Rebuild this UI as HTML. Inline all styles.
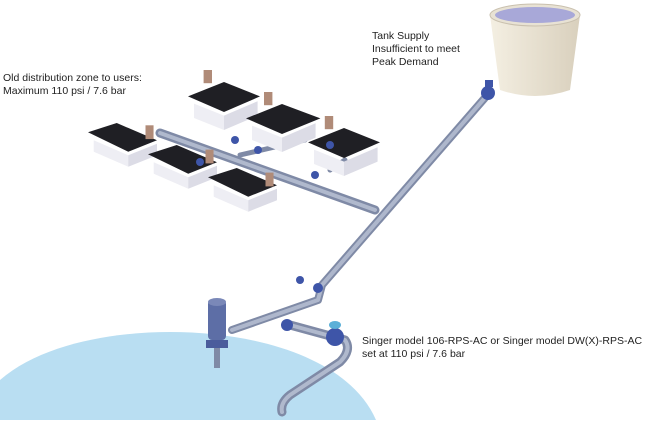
<!DOCTYPE html>
<html><head><style>
html,body{margin:0;background:#fff;width:664px;height:431px;overflow:hidden}
svg{display:block}
text{font-family:"Liberation Sans",sans-serif;font-size:10.5px;fill:#222}
</style></head><body>
<svg width="664" height="431" viewBox="0 0 664 431">
<defs>
<linearGradient id="tk" x1="0" x2="1"><stop offset="0" stop-color="#f4efe2"/><stop offset="1" stop-color="#d9d0bd"/></linearGradient>
</defs>
<rect width="664" height="431" fill="#fff"/>
<path d="M0 380 C40 345 110 332 170 332 C260 332 350 360 376 420 L0 420 Z" fill="#b9def2"/>
<path d="M490 15 L500 90 Q535 102 570 90 L580 15 Z" fill="url(#tk)"/>
<ellipse cx="535" cy="15" rx="45" ry="11" fill="#e8e2d4" stroke="#c9c0ae"/>
<ellipse cx="535" cy="15" rx="40" ry="8" fill="#a8a8d8"/>
<g fill="none" stroke-linecap="round" stroke-linejoin="round">
<path d="M490 92 L322 285 L318 300 L232 330" stroke="#7f8aa6" stroke-width="8"/>
<path d="M490 92 L322 285 L318 300 L232 330" stroke="#aeb7cc" stroke-width="4"/>
<path d="M160 133 L375 210" stroke="#7f8aa6" stroke-width="9"/>
<path d="M160 133 L375 210" stroke="#b0b9cd" stroke-width="4"/>
<path d="M240 155 L305 140 M330 170 L345 160 M185 165 L200 160" stroke="#7f8aa6" stroke-width="5"/>
<path d="M290 325 L345 340 Q352 350 340 362 L290 395 Q280 403 282 412" stroke="#7f8aa6" stroke-width="9"/>
<path d="M290 325 L345 340 Q352 350 340 362 L290 395 Q280 403 282 412" stroke="#b0b9cd" stroke-width="4"/>
</g>
<g fill="#3e55a8">
<circle cx="488" cy="93" r="7"/><rect x="485" y="80" width="8" height="7"/>
<circle cx="335" cy="337" r="9"/><ellipse cx="335" cy="325" rx="6" ry="4" fill="#5cb0d8"/>
<circle cx="287" cy="325" r="6"/>
<circle cx="318" cy="288" r="5"/>
<circle cx="300" cy="280" r="4"/>
</g>
<rect x="208" y="300" width="18" height="40" rx="4" fill="#5d6ea6"/>
<ellipse cx="217" cy="302" rx="9" ry="4" fill="#7a88b8"/>
<rect x="206" y="340" width="22" height="8" fill="#4a5c9c"/>
<rect x="214" y="348" width="6" height="20" fill="#7f8aa6"/>
<g>
<g transform="translate(188,82) scale(1.2)"><polygon points="0,12 30,0 60,12 30,25" fill="#1f1f24"/><polygon points="5,18 30,28 30,40 5,30" fill="#eeeef4"/><polygon points="30,28 58,16 58,28 30,40" fill="#dcdce6"/><rect x="13" y="-10" width="7" height="11" fill="#b08b78"/></g>
<g transform="translate(246,104) scale(1.2)"><polygon points="0,12 30,0 62,12 30,25" fill="#1f1f24"/><polygon points="5,18 30,28 30,40 5,30" fill="#eeeef4"/><polygon points="30,28 58,16 58,28 30,40" fill="#dcdce6"/><rect x="15" y="-10" width="7" height="11" fill="#b08b78"/></g>
<g transform="translate(308,128) scale(1.2)"><polygon points="0,12 30,0 60,12 30,25" fill="#1f1f24"/><polygon points="5,18 30,28 30,40 5,30" fill="#eeeef4"/><polygon points="30,28 58,16 58,28 30,40" fill="#dcdce6"/><rect x="14" y="-10" width="7" height="11" fill="#b08b78"/></g>
<g transform="translate(88,123) scale(1.15)"><polygon points="0,8 25,0 60,15 35,25" fill="#1f1f24"/><polygon points="5,15 35,28 35,38 5,25" fill="#eeeef4"/><polygon points="35,28 60,18 60,28 35,38" fill="#dcdce6"/><rect x="50" y="2" width="7" height="12" fill="#b08b78"/></g>
<g transform="translate(148,145) scale(1.15)"><polygon points="0,8 25,0 60,15 35,25" fill="#1f1f24"/><polygon points="5,15 35,28 35,38 5,25" fill="#eeeef4"/><polygon points="35,28 60,18 60,28 35,38" fill="#dcdce6"/><rect x="50" y="4" width="7" height="12" fill="#b08b78"/></g>
<g transform="translate(208,168) scale(1.15)"><polygon points="0,8 25,0 60,15 35,25" fill="#1f1f24"/><polygon points="5,15 35,28 35,38 5,25" fill="#eeeef4"/><polygon points="35,28 60,18 60,28 35,38" fill="#dcdce6"/><rect x="50" y="4" width="7" height="12" fill="#b08b78"/></g>
</g>
<g fill="#3e55a8">
<circle cx="235" cy="140" r="4"/><circle cx="258" cy="150" r="4"/>
<circle cx="200" cy="162" r="4"/><circle cx="315" cy="175" r="4"/><circle cx="330" cy="145" r="4"/>
</g>
<text x="372" y="39">Tank Supply</text>
<text x="372" y="52">Insufficient to meet</text>
<text x="372" y="65">Peak Demand</text>
<text x="3" y="81">Old distribution zone to users:</text>
<text x="3" y="94">Maximum 110 psi / 7.6 bar</text>
<text x="362" y="344">Singer model 106-RPS-AC or Singer model DW(X)-RPS-AC</text>
<text x="362" y="357">set at 110 psi / 7.6 bar</text>
</svg>
</body></html>
